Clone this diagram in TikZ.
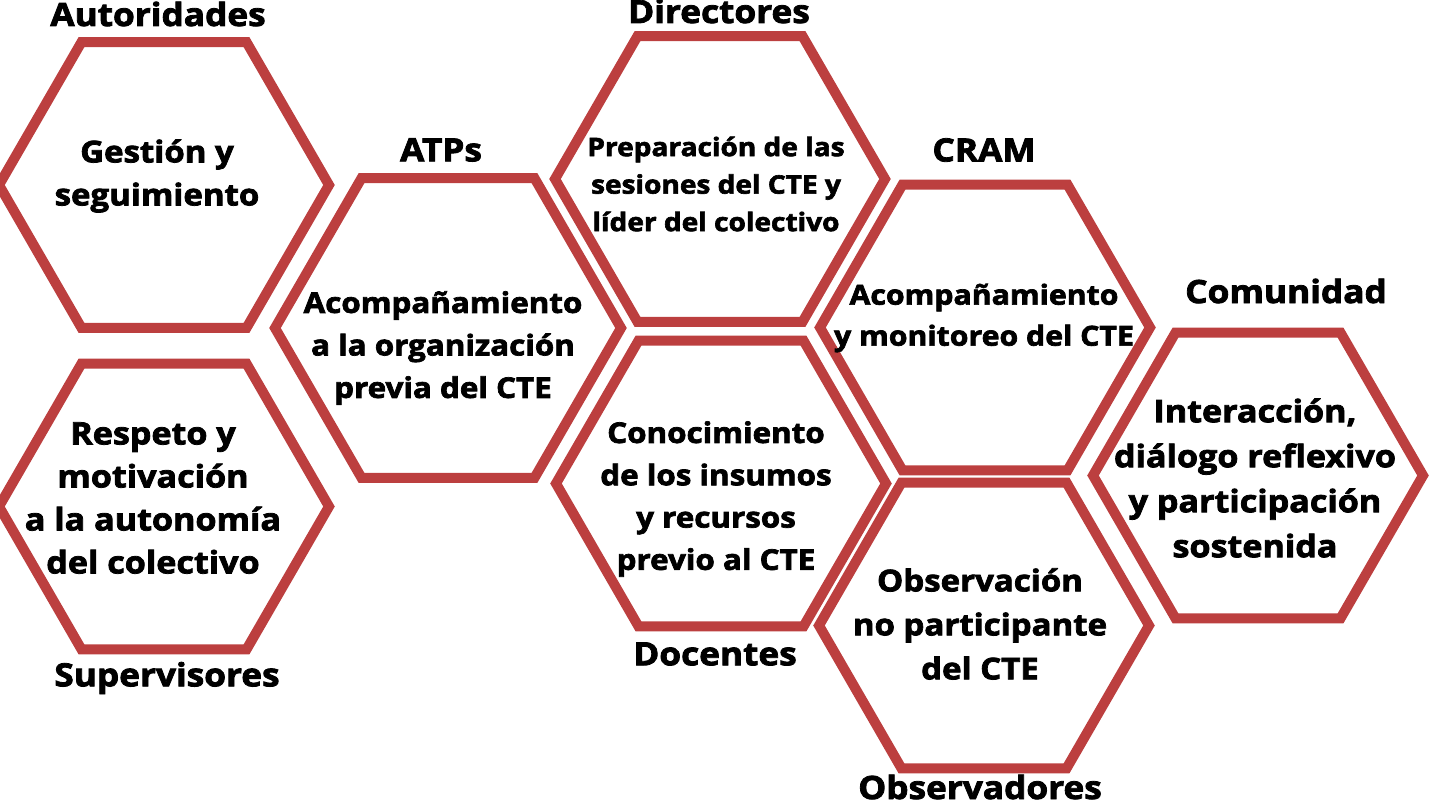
\documentclass[tikz,border=0pt]{standalone}
\usepackage{fontspec}
\setmainfont{Open Sans}[BoldFeatures={FakeBold=2.5,FakeStretch=1.1}]
\usetikzlibrary{shapes.geometric}

\definecolor{hexred}{RGB}{188,63,63}

\tikzset{
  hexa/.style={regular polygon, regular polygon sides=6,
    draw=hexred, line width=10pt, minimum size=#1, inner sep=0pt},
  hexa/.default=330pt,
  txt/.style 2 args={align=center, font=\bfseries\fontsize{#1}{#2}\selectfont},
  role/.style={font=\bfseries\fontsize{32}{36}\selectfont}
}

\begin{document}
\begin{tikzpicture}[x=1pt,y=-1pt]
  \useasboundingbox (0,0) rectangle (1431,800);

  % hexagons
  \node[hexa] (aut)  at (164,185) {};
  \node[hexa] (sup)  at (164,506.5) {};
  \node[hexa=346pt] (atp)  at (448,328) {};
  \node[hexa] (dir)  at (720,179) {};
  \node[hexa] (doc)  at (721,483.5) {};
  \node[hexa] (cram) at (985,327.5) {};
  \node[hexa] (obs)  at (984,625.5) {};
  \node[hexa] (com)  at (1258,475.5) {};

  % texts inside
  \node[txt={30}{43}] (autT) at (157,176) {Gestión y\\seguimiento};
  \node[txt={31}{43}] (supT) at (153,498) {Respeto y\\motivación\\a la autonomía\\del colectivo};
  \node[txt={28.5}{42.5}] (atpT) at (443,348) {Acompañamiento\\a la organización\\previa del CTE};
  \node[txt={25.5}{37.5}] (dirT) at (716,184) {Preparación de las\\sesiones del CTE y\\ líder del colectivo};
  \node[txt={28.5}{42.3}] (docT) at (716,499) {Conocimiento\\de los insumos\\y recursos\\previo al CTE};
  \node[txt={27.5}{41}] (cramT) at (984,318) {Acompañamiento\\y monitoreo del CTE};
  \node[txt={30}{44}] (obsT) at (980,624) {Observación\\no participante\\del CTE};
  \node[txt={31}{45}] (comT) at (1255,478) {Interacción,\\diálogo reflexivo\\y participación\\sostenida};

  % roles
  \node[role] (autL)  at (158,14)  {Autoridades};
  \node[role] (supL)  at (167,678) {Supervisores};
  \node[role] (atpL)  at (441,150) {ATPs};
  \node[role] (dirL)  at (719,11)  {Directores};
  \node[role] (docL)  at (715,654) {Docentes};
  \node[role] (cramL) at (984,150) {CRAM};
  \node[role] (comL)  at (1286,291) {Comunidad};
  \node[role] (obsL)  at (980,787) {Observadores};
\end{tikzpicture}
\end{document}
